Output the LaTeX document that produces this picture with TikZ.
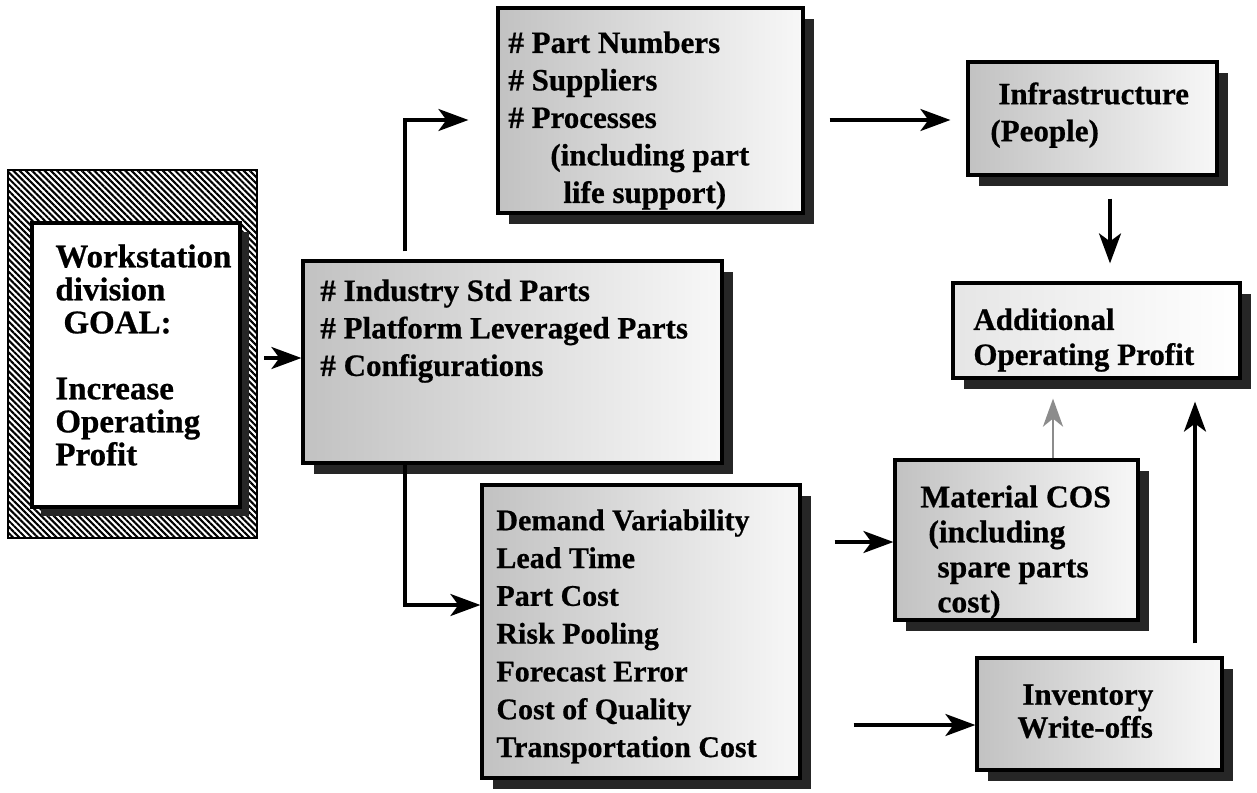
\documentclass[tikz,border=0pt]{standalone}
\usepackage{fontspec}
\setmainfont{Liberation Serif}[BoldFeatures={FakeBold=0.6}]
\usetikzlibrary{arrows.meta,patterns.meta,calc}
\begin{document}
\begin{tikzpicture}[x=0.5pt,y=-0.5pt,
  every node/.style={inner sep=0pt},
  shd/.style={preaction={fill=black!85, transform canvas={shift={(#1,-#1)}}}},
  shd/.default=5.5pt,
  box/.style={draw, line width=1.6pt, shd, shading=axis, left color=black!24, right color=black!3},
  lightbox/.style={box, left color=black!10, right color=white},
  hatchbox/.style={draw, line width=1pt, pattern={Lines[angle=-45,distance=2.2pt,line width=1.05pt]}},
  whitebox/.style={draw, line width=1.6pt, fill=white, shd=4.5pt},
  txt/.style={align=left, anchor=north west, font=\bfseries\fontsize{15.5pt}{18.75pt}\selectfont},
  arr/.style={line width=1.8pt, -{Stealth[length=15pt,width=11pt,inset=4pt]}},
  garr/.style={line width=1.4pt, draw=black!45, -{Stealth[length=14pt,width=10pt,inset=4pt]}}
]
\useasboundingbox[fill=white] (0,0) rectangle (1257,792);

% left goal box
\node[hatchbox, minimum width=124.5pt, minimum height=184pt] (goalouter) at (132.5,354) {};
\node[whitebox, minimum width=104pt, minimum height=142pt] (goalinner) at (136,365) {};
\node[txt, font=\bfseries\fontsize{16.5pt}{16.5pt}\selectfont] (tgoal) at (55,244)
  {Workstation\\division\\\hspace*{4pt}GOAL:\\[16.5pt]Increase\\Operating\\Profit};

% boxes
\node[box, minimum width=209.5pt, minimum height=101pt] (mid) at (512.5,362) {};
\node[box, minimum width=152.5pt, minimum height=102.5pt] (top) at (650.5,110.5) {};
\node[box, minimum width=159pt, minimum height=146.5pt] (bot) at (641,631.5) {};
\node[box, minimum width=124.5pt, minimum height=56.5pt] (infra) at (1092.5,118.5) {};
\node[lightbox, minimum width=143.5pt, minimum height=47.5pt] (addl) at (1096.5,330.5) {};
\node[box, minimum width=121.5pt, minimum height=80pt] (mat) at (1016.5,540) {};
\node[box, minimum width=122.5pt, minimum height=56pt] (inv) at (1099.5,714) {};

% texts
\node[txt] (tmid) at (320,279) {\# Industry Std Parts\\\# Platform Leveraged Parts\\\# Configurations};
\node[txt] (ttop) at (508,31) {\# Part Numbers\\\# Suppliers\\\# Processes\\\hspace*{21pt}(including part\\\hspace*{27.5pt}life support)};
\node[txt, font=\bfseries\fontsize{15pt}{18.9pt}\selectfont] (tbot) at (496,509)
  {Demand Variability\\Lead Time\\Part Cost\\Risk Pooling\\Forecast Error\\Cost of Quality\\Transportation Cost};
\node[txt, font=\bfseries\fontsize{15.5pt}{18.5pt}\selectfont] (tinfra) at (990,82) {\hspace*{4pt}Infrastructure\\(People)};
\node[txt, font=\bfseries\fontsize{15.5pt}{17.5pt}\selectfont] (taddl) at (973,308) {Additional\\Operating Profit};
\node[txt, font=\bfseries\fontsize{15.8pt}{17.5pt}\selectfont] (tmat) at (920,485)
  {Material COS\\\hspace*{4pt}(including\\\hspace*{8.5pt}spare parts\\\hspace*{8.5pt}cost)};
\node[txt, font=\bfseries\fontsize{15.5pt}{16.5pt}\selectfont] (tinv) at (1017,684) {\hspace*{2.5pt}Inventory\\Write-offs};

% connector points
\coordinate (k0) at (280,358);
\coordinate (k1) at (405,120);
\coordinate (k2) at (890,120);
\coordinate (k3) at (1110,230);
\coordinate (k4) at (405,605);
\coordinate (k5) at (860,542);
\coordinate (k6) at (900,725);
\coordinate (k7) at (1053,430);
\coordinate (k8) at (1195,520);

% connectors
\draw[arr, shorten <=3pt] (goalouter.east |- k0) -- (mid.west |- k0);
\draw[arr, shorten <=4pt, shorten >=14pt] (mid.north -| k1) |- (top.west |- k1);
\draw[arr, shorten <=12.5pt, shorten >=8pt] (top.east |- k2) -- (infra.west |- k2);
\draw[arr, shorten <=11pt, shorten >=9pt] (infra.south -| k3) -- (addl.north -| k3);
\draw[arr] (mid.south -| k4) |- (bot.west |- k4);
\draw[arr, shorten <=16.5pt] (bot.east |- k5) -- (mat.west |- k5);
\draw[arr, shorten <=26pt] (bot.east |- k6) -- (inv.west |- k6);
\draw[garr, shorten >=9.5pt] (mat.north -| k7) -- (addl.south -| k7);
\draw[arr, shorten <=6.5pt, shorten >=11pt] (inv.north -| k8) -- (addl.south -| k8);
\end{tikzpicture}
\end{document}
